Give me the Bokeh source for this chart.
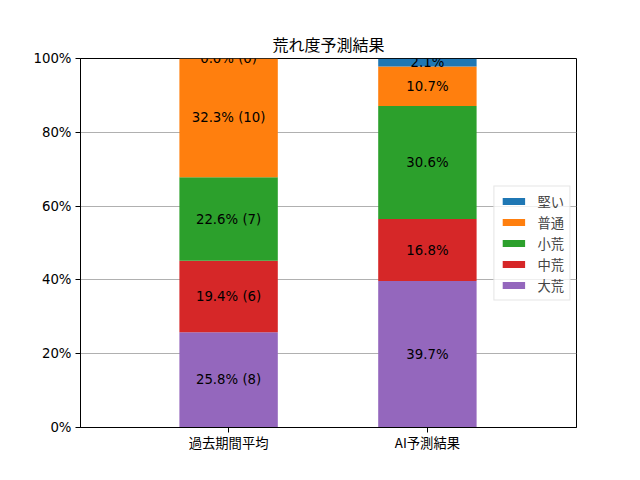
from bokeh.plotting import figure
from bokeh.models import ColumnDataSource, Range1d, FixedTicker, NumeralTickFormatter, Legend, LegendItem, LabelSet
from bokeh.core.properties import value
from bokeh.embed import file_html
from bokeh.resources import INLINE

categories = ["過去期間平均", "AI予測結果"]
series = ["大荒", "中荒", "小荒", "普通", "堅い"]
colors = ["#9467bd", "#d62728", "#2ca02c", "#ff7f0e", "#1f77b4"]
past_pct = [25.8, 19.4, 22.6, 32.3, 0.0]
past_counts = [8, 6, 7, 10, 0]
ai_pct = [39.7, 16.8, 30.6, 10.7, 2.1]
y_ticks = [0, 0.2, 0.4, 0.6, 0.8, 1.0]

xs = [0, 1]
data = {"x": xs}
for i, s in enumerate(series):
    data[s] = [past_pct[i] / 100, ai_pct[i] / 100]
source = ColumnDataSource(data)

JP = "Noto Sans CJK JP"
LAT = "DejaVu Sans"

p = figure(frame_width=496, frame_height=369, min_border_left=80, min_border_right=64,
           min_border_top=58, min_border_bottom=53, output_backend="svg", toolbar_location=None,
           x_range=Range1d(-0.745, 1.75), y_range=Range1d(0, 1), title="荒れ度予測結果")
p.title.text_font = JP
p.title.text_font_size = "16px"
p.title.text_font_style = "normal"
p.title.align = "center"
p.title.text_color = "black"
p.title.standoff = 6

renderers = p.vbar_stack(series, x="x", width=0.495, color=colors, source=source, line_width=0)

# labels
lx, ly, lt = [], [], []
for j, (pcts, counts) in enumerate([(past_pct, past_counts), (ai_pct, None)]):
    cum = 0.0
    for i, v in enumerate(pcts):
        v01 = v / 100
        lx.append(xs[j])
        ly.append(cum + v01 / 2)
        if counts is not None:
            lt.append(f"{v:.1f}% ({counts[i]})")
        else:
            lt.append(f"{v:.1f}%")
        cum += v01
lsrc = ColumnDataSource(dict(x=lx, y=ly, t=lt))
labels = LabelSet(x="x", y="y", text="t", source=lsrc, text_align="center", text_baseline="middle",
                  text_font=value(LAT), text_font_size=value("13.3px"), text_color=value("black"), level="glyph")
p.add_layout(labels)

legend = Legend(items=[LegendItem(label=series[i], renderers=[renderers[i]]) for i in reversed(range(len(series)))],
                location="center_right")
legend.label_text_font = JP
legend.label_text_font_size = "13.3px"
legend.glyph_width = 28
legend.glyph_height = 9
legend.label_height = 17
legend.spacing = 2
legend.padding = 5
legend.margin = 6
legend.label_standoff = 10
legend.border_line_color = "#cccccc"
legend.border_line_width = 1
legend.background_fill_alpha = 0.8
p.add_layout(legend, "center")

p.xgrid.visible = False
p.ygrid.grid_line_color = "#b0b0b0"
p.ygrid.grid_line_width = 1
p.ygrid.ticker = FixedTicker(ticks=y_ticks)

p.yaxis.ticker = FixedTicker(ticks=y_ticks)
p.yaxis.formatter = NumeralTickFormatter(format="0%")
p.xaxis.ticker = FixedTicker(ticks=xs)
p.xaxis.major_label_overrides = {0: categories[0], 1: categories[1]}
p.xaxis.major_label_text_font = JP
p.yaxis.major_label_text_font = LAT
for ax in (p.xaxis, p.yaxis):
    ax.major_label_text_font_size = "13.3px"
    ax.major_label_text_color = "black"
    ax.axis_line_color = "black"
    ax.major_tick_line_color = "black"
    ax.major_tick_in = 0
    ax.major_tick_out = 5
    ax.minor_tick_line_color = None
p.yaxis.major_label_standoff = 4
p.xaxis.major_label_standoff = 0
p.outline_line_color = "black"
p.outline_line_width = 1
p.outline_line_alpha = 1

open("out.html", "w").write(file_html(p, INLINE))
